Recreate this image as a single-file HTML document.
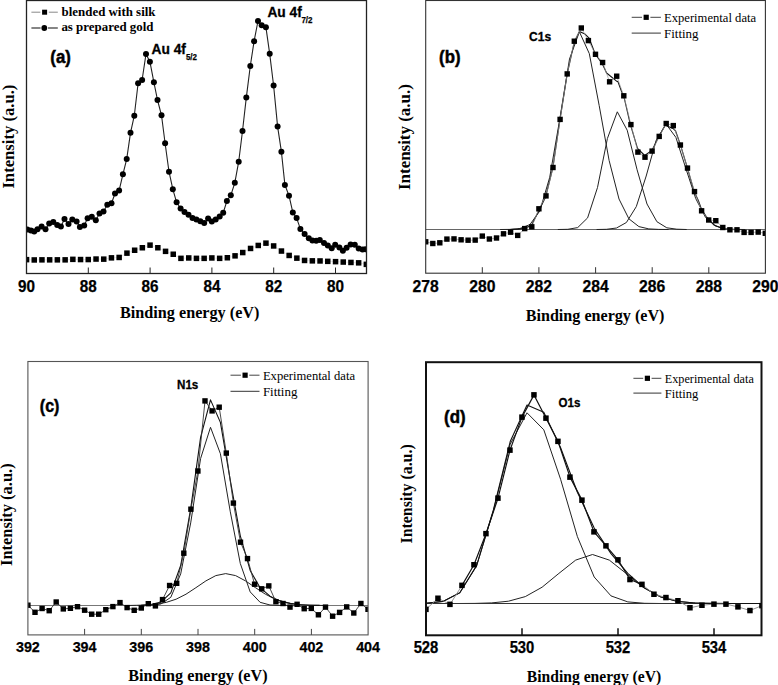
<!DOCTYPE html>
<html><head><meta charset="utf-8"><style>html,body{margin:0;padding:0;background:#fff;width:778px;height:685px;overflow:hidden}svg{display:block}</style></head><body>
<svg width="778" height="685" viewBox="0 0 778 685">
<rect width="778" height="685" fill="#fff"/>
<defs><clipPath id="ca"><rect x="26.5" y="0" width="340" height="273.5"/></clipPath><clipPath id="cb"><rect x="425.7" y="0" width="339.7" height="273.2"/></clipPath><clipPath id="cc"><rect x="27.9" y="361.5" width="340.2" height="273.4"/></clipPath><clipPath id="cd"><rect x="426" y="362.2" width="335.5" height="273.1"/></clipPath></defs><g clip-path="url(#ca)">
<polyline points="27.3,229.6 30.9,230.4 34.2,231.4 37.5,229.3 41.6,226.4 45.5,229.3 49.2,223.4 53.3,222 57.2,225 60.9,226.4 64.5,219.1 68.5,224.1 72.3,219.4 76.6,221.6 79.9,227 84.2,225.5 87.6,218.2 91.8,216.8 95.8,220.2 99.5,213.6 103.5,211.5 107.3,204.8 111.5,203.3 115,193.5 119.1,190.6 122.9,174.3 126.7,159.1 130.5,132.8 134.3,115.7 138.1,83.3 142.1,80 146,54 149.9,61.7 153.9,82.3 157.5,100 161.5,115.3 165.1,143.2 169,171.7 172.8,189.2 176.6,202.3 180.6,208.5 184.5,212 188.5,214.8 192.5,218 196.4,219.6 200.3,221.2 204.2,222.9 208.1,218.6 211.8,221.6 215.7,219.6 219.7,216.6 223.2,212.8 226.9,201 230.8,195.3 234.8,182.8 238.7,161.7 242.5,131 246.3,97.6 250.3,66 254.1,41.2 258,21 261.7,25.2 265.9,27.2 269.7,53.8 273.6,85.5 277.6,126.6 281.4,151.7 284.9,184.9 289,195.7 292.8,212.4 296.6,218.1 300.4,228.9 304.6,234 308.8,238.3 312.4,240.4 316.2,240.8 319.8,240 324,243.1 327.8,245.5 331.7,248.2 335.2,244.7 339.4,247.5 342.9,250.8 346.6,247.8 350.6,244.4 354.8,244.7 358.7,248.5 362.5,249.6 365.3,249.3" fill="none" stroke="#222" stroke-width="1.1" stroke-linejoin="round" />
<circle cx="27.3" cy="229.6" r="3"/>
<circle cx="30.9" cy="230.4" r="3"/>
<circle cx="34.2" cy="231.4" r="3"/>
<circle cx="37.5" cy="229.3" r="3"/>
<circle cx="41.6" cy="226.4" r="3"/>
<circle cx="45.5" cy="229.3" r="3"/>
<circle cx="49.2" cy="223.4" r="3"/>
<circle cx="53.3" cy="222" r="3"/>
<circle cx="57.2" cy="225" r="3"/>
<circle cx="60.9" cy="226.4" r="3"/>
<circle cx="64.5" cy="219.1" r="3"/>
<circle cx="68.5" cy="224.1" r="3"/>
<circle cx="72.3" cy="219.4" r="3"/>
<circle cx="76.6" cy="221.6" r="3"/>
<circle cx="79.9" cy="227" r="3"/>
<circle cx="84.2" cy="225.5" r="3"/>
<circle cx="87.6" cy="218.2" r="3"/>
<circle cx="91.8" cy="216.8" r="3"/>
<circle cx="95.8" cy="220.2" r="3"/>
<circle cx="99.5" cy="213.6" r="3"/>
<circle cx="103.5" cy="211.5" r="3"/>
<circle cx="107.3" cy="204.8" r="3"/>
<circle cx="111.5" cy="203.3" r="3"/>
<circle cx="115" cy="193.5" r="3"/>
<circle cx="119.1" cy="190.6" r="3"/>
<circle cx="122.9" cy="174.3" r="3"/>
<circle cx="126.7" cy="159.1" r="3"/>
<circle cx="130.5" cy="132.8" r="3"/>
<circle cx="134.3" cy="115.7" r="3"/>
<circle cx="138.1" cy="83.3" r="3"/>
<circle cx="142.1" cy="80" r="3"/>
<circle cx="146" cy="54" r="3"/>
<circle cx="149.9" cy="61.7" r="3"/>
<circle cx="153.9" cy="82.3" r="3"/>
<circle cx="157.5" cy="100" r="3"/>
<circle cx="161.5" cy="115.3" r="3"/>
<circle cx="165.1" cy="143.2" r="3"/>
<circle cx="169" cy="171.7" r="3"/>
<circle cx="172.8" cy="189.2" r="3"/>
<circle cx="176.6" cy="202.3" r="3"/>
<circle cx="180.6" cy="208.5" r="3"/>
<circle cx="184.5" cy="212" r="3"/>
<circle cx="188.5" cy="214.8" r="3"/>
<circle cx="192.5" cy="218" r="3"/>
<circle cx="196.4" cy="219.6" r="3"/>
<circle cx="200.3" cy="221.2" r="3"/>
<circle cx="204.2" cy="222.9" r="3"/>
<circle cx="208.1" cy="218.6" r="3"/>
<circle cx="211.8" cy="221.6" r="3"/>
<circle cx="215.7" cy="219.6" r="3"/>
<circle cx="219.7" cy="216.6" r="3"/>
<circle cx="223.2" cy="212.8" r="3"/>
<circle cx="226.9" cy="201" r="3"/>
<circle cx="230.8" cy="195.3" r="3"/>
<circle cx="234.8" cy="182.8" r="3"/>
<circle cx="238.7" cy="161.7" r="3"/>
<circle cx="242.5" cy="131" r="3"/>
<circle cx="246.3" cy="97.6" r="3"/>
<circle cx="250.3" cy="66" r="3"/>
<circle cx="254.1" cy="41.2" r="3"/>
<circle cx="258" cy="21" r="3"/>
<circle cx="261.7" cy="25.2" r="3"/>
<circle cx="265.9" cy="27.2" r="3"/>
<circle cx="269.7" cy="53.8" r="3"/>
<circle cx="273.6" cy="85.5" r="3"/>
<circle cx="277.6" cy="126.6" r="3"/>
<circle cx="281.4" cy="151.7" r="3"/>
<circle cx="284.9" cy="184.9" r="3"/>
<circle cx="289" cy="195.7" r="3"/>
<circle cx="292.8" cy="212.4" r="3"/>
<circle cx="296.6" cy="218.1" r="3"/>
<circle cx="300.4" cy="228.9" r="3"/>
<circle cx="304.6" cy="234" r="3"/>
<circle cx="308.8" cy="238.3" r="3"/>
<circle cx="312.4" cy="240.4" r="3"/>
<circle cx="316.2" cy="240.8" r="3"/>
<circle cx="319.8" cy="240" r="3"/>
<circle cx="324" cy="243.1" r="3"/>
<circle cx="327.8" cy="245.5" r="3"/>
<circle cx="331.7" cy="248.2" r="3"/>
<circle cx="335.2" cy="244.7" r="3"/>
<circle cx="339.4" cy="247.5" r="3"/>
<circle cx="342.9" cy="250.8" r="3"/>
<circle cx="346.6" cy="247.8" r="3"/>
<circle cx="350.6" cy="244.4" r="3"/>
<circle cx="354.8" cy="244.7" r="3"/>
<circle cx="358.7" cy="248.5" r="3"/>
<circle cx="362.5" cy="249.6" r="3"/>
<circle cx="365.3" cy="249.3" r="3"/>
<polyline points="26.5,259.6 34.2,260 42,259.8 49.7,259.9 57.4,259.9 65.1,259.8 72.8,259.3 80.6,259.5 88.3,259.5 96,259 103.8,259.2 111.5,257.9 119.2,257.4 126.9,253.2 134.6,250.3 142.4,247.8 150.1,245.1 157.8,247.8 165.5,251.3 173.3,254.2 181,258.4 188.7,257.9 196.4,258.4 204.2,258.4 211.9,257.9 219.6,258.4 227.3,257.8 235.1,255.9 242.8,252.5 250.5,248.5 258.2,245.4 266,243.2 273.7,245.9 281.4,251 289.1,255.5 296.9,258.2 304.6,260.4 312.3,260.9 320.1,260.9 327.8,261.3 335.5,261.6 343.2,262 350.9,262.4 358.7,262.9 366.4,264.3" fill="none" stroke="#ddd" stroke-width="0.7" stroke-linejoin="round" />
<rect x="23.8" y="256.9" width="5.5" height="5.5" fill="#000"/>
<rect x="31.5" y="257.2" width="5.5" height="5.5" fill="#000"/>
<rect x="39.2" y="257.1" width="5.5" height="5.5" fill="#000"/>
<rect x="46.9" y="257.1" width="5.5" height="5.5" fill="#000"/>
<rect x="54.6" y="257.1" width="5.5" height="5.5" fill="#000"/>
<rect x="62.4" y="257.1" width="5.5" height="5.5" fill="#000"/>
<rect x="70.1" y="256.6" width="5.5" height="5.5" fill="#000"/>
<rect x="77.8" y="256.8" width="5.5" height="5.5" fill="#000"/>
<rect x="85.5" y="256.8" width="5.5" height="5.5" fill="#000"/>
<rect x="93.3" y="256.3" width="5.5" height="5.5" fill="#000"/>
<rect x="101" y="256.4" width="5.5" height="5.5" fill="#000"/>
<rect x="108.7" y="255.1" width="5.5" height="5.5" fill="#000"/>
<rect x="116.4" y="254.7" width="5.5" height="5.5" fill="#000"/>
<rect x="124.2" y="250.4" width="5.5" height="5.5" fill="#000"/>
<rect x="131.9" y="247.5" width="5.5" height="5.5" fill="#000"/>
<rect x="139.6" y="245" width="5.5" height="5.5" fill="#000"/>
<rect x="147.3" y="242.4" width="5.5" height="5.5" fill="#000"/>
<rect x="155.1" y="245" width="5.5" height="5.5" fill="#000"/>
<rect x="162.8" y="248.6" width="5.5" height="5.5" fill="#000"/>
<rect x="170.5" y="251.5" width="5.5" height="5.5" fill="#000"/>
<rect x="178.2" y="255.6" width="5.5" height="5.5" fill="#000"/>
<rect x="186" y="255.2" width="5.5" height="5.5" fill="#000"/>
<rect x="193.7" y="255.6" width="5.5" height="5.5" fill="#000"/>
<rect x="201.4" y="255.6" width="5.5" height="5.5" fill="#000"/>
<rect x="209.1" y="255.2" width="5.5" height="5.5" fill="#000"/>
<rect x="216.9" y="255.6" width="5.5" height="5.5" fill="#000"/>
<rect x="224.6" y="255" width="5.5" height="5.5" fill="#000"/>
<rect x="232.3" y="253.1" width="5.5" height="5.5" fill="#000"/>
<rect x="240" y="249.8" width="5.5" height="5.5" fill="#000"/>
<rect x="247.8" y="245.7" width="5.5" height="5.5" fill="#000"/>
<rect x="255.5" y="242.7" width="5.5" height="5.5" fill="#000"/>
<rect x="263.2" y="240.4" width="5.5" height="5.5" fill="#000"/>
<rect x="270.9" y="243.2" width="5.5" height="5.5" fill="#000"/>
<rect x="278.7" y="248.3" width="5.5" height="5.5" fill="#000"/>
<rect x="286.4" y="252.7" width="5.5" height="5.5" fill="#000"/>
<rect x="294.1" y="255.4" width="5.5" height="5.5" fill="#000"/>
<rect x="301.8" y="257.7" width="5.5" height="5.5" fill="#000"/>
<rect x="309.6" y="258.1" width="5.5" height="5.5" fill="#000"/>
<rect x="317.3" y="258.2" width="5.5" height="5.5" fill="#000"/>
<rect x="325" y="258.6" width="5.5" height="5.5" fill="#000"/>
<rect x="332.8" y="258.9" width="5.5" height="5.5" fill="#000"/>
<rect x="340.5" y="259.3" width="5.5" height="5.5" fill="#000"/>
<rect x="348.2" y="259.7" width="5.5" height="5.5" fill="#000"/>
<rect x="355.9" y="260.1" width="5.5" height="5.5" fill="#000"/>
<rect x="363.6" y="261.6" width="5.5" height="5.5" fill="#000"/>
</g>
<rect x="26.5" y="0.5" width="340" height="273" fill="none" stroke="#222" stroke-width="1.3"/>
<text x="26.5" y="291.8" font-family="Liberation Sans" font-size="16.2" font-weight="bold" text-anchor="middle" textLength="17" lengthAdjust="spacingAndGlyphs" stroke="#000" stroke-width="0.25">90</text>
<line x1="88.3" y1="273.5" x2="88.3" y2="267.5" stroke="#222" stroke-width="1"/>
<text x="88.3" y="291.8" font-family="Liberation Sans" font-size="16.2" font-weight="bold" text-anchor="middle" textLength="17" lengthAdjust="spacingAndGlyphs" stroke="#000" stroke-width="0.25">88</text>
<line x1="150.1" y1="273.5" x2="150.1" y2="267.5" stroke="#222" stroke-width="1"/>
<text x="150.1" y="291.8" font-family="Liberation Sans" font-size="16.2" font-weight="bold" text-anchor="middle" textLength="17" lengthAdjust="spacingAndGlyphs" stroke="#000" stroke-width="0.25">86</text>
<line x1="211.9" y1="273.5" x2="211.9" y2="267.5" stroke="#222" stroke-width="1"/>
<text x="211.9" y="291.8" font-family="Liberation Sans" font-size="16.2" font-weight="bold" text-anchor="middle" textLength="17" lengthAdjust="spacingAndGlyphs" stroke="#000" stroke-width="0.25">84</text>
<line x1="273.7" y1="273.5" x2="273.7" y2="267.5" stroke="#222" stroke-width="1"/>
<text x="273.7" y="291.8" font-family="Liberation Sans" font-size="16.2" font-weight="bold" text-anchor="middle" textLength="17" lengthAdjust="spacingAndGlyphs" stroke="#000" stroke-width="0.25">82</text>
<line x1="335.5" y1="273.5" x2="335.5" y2="267.5" stroke="#222" stroke-width="1"/>
<text x="335.5" y="291.8" font-family="Liberation Sans" font-size="16.2" font-weight="bold" text-anchor="middle" textLength="17" lengthAdjust="spacingAndGlyphs" stroke="#000" stroke-width="0.25">80</text>
<line x1="31.4" y1="12.2" x2="40.4" y2="12.2" stroke="#888" stroke-width="1"/>
<line x1="48.8" y1="12.2" x2="57.8" y2="12.2" stroke="#888" stroke-width="1"/>
<rect x="42.1" y="9.7" width="5" height="5" fill="#000"/>
<line x1="31.4" y1="28" x2="40.6" y2="28" stroke="#222" stroke-width="1.1"/><line x1="48" y1="28" x2="57.8" y2="28" stroke="#222" stroke-width="1.1"/>
<circle cx="44.3" cy="28" r="2.9"/>
<text x="61.6" y="16" font-family="Liberation Serif" font-size="13" font-weight="bold" text-anchor="start" textLength="93.9" lengthAdjust="spacingAndGlyphs" >blended with silk</text>
<text x="61.4" y="31.4" font-family="Liberation Serif" font-size="13" font-weight="bold" text-anchor="start" textLength="92.1" lengthAdjust="spacingAndGlyphs" >as prepared gold</text>
<text x="50.3" y="62.5" font-family="Liberation Sans" font-size="18" font-weight="bold" text-anchor="start" textLength="20.5" lengthAdjust="spacingAndGlyphs" stroke="#000" stroke-width="0.5">(a)</text>
<text x="151.5" y="53.9" font-family="Liberation Sans" font-size="14" font-weight="bold" text-anchor="start" textLength="34.4" lengthAdjust="spacingAndGlyphs" stroke="#000" stroke-width="0.3">Au 4f</text>
<text x="185.9" y="59.7" font-family="Liberation Sans" font-size="9.5" font-weight="bold" text-anchor="start" textLength="11.1" lengthAdjust="spacingAndGlyphs" stroke="#000" stroke-width="0.25">5/2</text>
<text x="267.4" y="17.4" font-family="Liberation Sans" font-size="14" font-weight="bold" text-anchor="start" textLength="34.4" lengthAdjust="spacingAndGlyphs" stroke="#000" stroke-width="0.3">Au 4f</text>
<text x="301.4" y="23" font-family="Liberation Sans" font-size="9.5" font-weight="bold" text-anchor="start" textLength="11.1" lengthAdjust="spacingAndGlyphs" stroke="#000" stroke-width="0.25">7/2</text>
<text x="120" y="317.8" font-family="Liberation Serif" font-size="16" font-weight="bold" text-anchor="start" textLength="139.4" lengthAdjust="spacingAndGlyphs" >Binding energy (eV)</text>
<text transform="translate(14.3,188.6) rotate(-90)" font-family="Liberation Serif" font-size="16.5" font-weight="bold" textLength="104" lengthAdjust="spacingAndGlyphs">Intensity (a.u.)</text>
<g clip-path="url(#cb)">
<line x1="425.7" y1="229.5" x2="765.4" y2="229.5" stroke="#666" stroke-width="1.1"/>
<polyline points="500.1,229.5 510,229.4 519.9,228.5 529.9,224.6 539.8,211 549.7,177.4 559.6,120.2 569.5,59 579.4,31.8 589.3,53.6 599.2,105.6 609.1,160.4 619,199 628.9,218.8 638.9,226.6 648.8,228.9 658.7,229.4 668.6,229.5" fill="none" stroke="#222" stroke-width="1" stroke-linejoin="round" />
<polyline points="557.8,229.5 567.8,229.3 577.7,227.6 587.6,217.9 597.5,187.5 607.4,138.5 617.3,111.8 627.2,130.2 637.1,169.8 647,204 656.9,221.7 666.8,227.8 676.8,229.2 686.7,229.5" fill="none" stroke="#222" stroke-width="1" stroke-linejoin="round" />
<polyline points="596.6,229.5 606.5,229.3 616.5,228 626.4,222.5 636.3,206.6 646.2,176 656.1,140.5 666,124 675.9,137.4 685.8,168.3 695.7,198.5 705.6,217.5 715.5,226 725.5,228.7 735.4,229.4 745.3,229.5" fill="none" stroke="#222" stroke-width="1" stroke-linejoin="round" />
<polyline points="510,229.5 518,229.1 524.4,228.4 531.6,225.3 538.4,211.5 545.6,197 552.9,167.5 560,119.4 563.1,100 567.2,74 574.3,42 579.4,31.5 585,34.1 589.1,38.2 595.3,54.2 602.3,63.8 606.6,73 616.3,80.9 618,81.8 621.5,91.4 624.1,97.5 630.3,124.2 637.5,148.3 644.7,155.5 651.9,150.4 658.9,136.4 665.2,125.2 673.5,128.8 675.5,130.8 680.2,144.2 686.8,165.8 694.2,191.6 698.3,200.5 701.4,209 706.2,216.6 714.1,225 721.1,228 732,229.5" fill="none" stroke="#111" stroke-width="1.1" stroke-linejoin="round" />
<polyline points="425.7,241.8 432.8,243.5 439.8,242.8 446.9,239.1 454,238.9 461.1,239.8 468.1,240.2 475.2,240.1 482.3,236.1 489.4,239 496.4,238 503.5,233.8 510.6,232.2 517.7,235.4 524.8,228.6 531.8,226.8 538.9,208.8 546,195.9 553,167.5 560.1,119.4 567.2,73.9 574.3,41.2 581.4,28 588.4,40.6 595.5,54.3 602.6,62.5 609.6,81.8 616.7,76.2 623.8,95.8 630.9,124.6 638,152.1 645,157.2 652.1,151.1 659.2,136.4 666.2,123.5 673.3,125.6 680.4,145 687.5,168.1 694.5,191.6 701.6,210.8 708.7,220 715.8,220.7 722.9,227.5 729.9,229.8 737,229.8 744.1,232.4 751.1,232.4 758.2,232.1 765.3,233.3" fill="none" stroke="#999" stroke-width="0.7" stroke-linejoin="round" />
<rect x="423" y="239.1" width="5.4" height="5.4" fill="#000"/>
<rect x="430.1" y="240.8" width="5.4" height="5.4" fill="#000"/>
<rect x="437.1" y="240.1" width="5.4" height="5.4" fill="#000"/>
<rect x="444.2" y="236.4" width="5.4" height="5.4" fill="#000"/>
<rect x="451.3" y="236.2" width="5.4" height="5.4" fill="#000"/>
<rect x="458.4" y="237.1" width="5.4" height="5.4" fill="#000"/>
<rect x="465.4" y="237.5" width="5.4" height="5.4" fill="#000"/>
<rect x="472.5" y="237.4" width="5.4" height="5.4" fill="#000"/>
<rect x="479.6" y="233.4" width="5.4" height="5.4" fill="#000"/>
<rect x="486.7" y="236.3" width="5.4" height="5.4" fill="#000"/>
<rect x="493.8" y="235.3" width="5.4" height="5.4" fill="#000"/>
<rect x="500.8" y="231.1" width="5.4" height="5.4" fill="#000"/>
<rect x="507.9" y="229.5" width="5.4" height="5.4" fill="#000"/>
<rect x="515" y="232.7" width="5.4" height="5.4" fill="#000"/>
<rect x="522" y="225.9" width="5.4" height="5.4" fill="#000"/>
<rect x="529.1" y="224.1" width="5.4" height="5.4" fill="#000"/>
<rect x="536.2" y="206.1" width="5.4" height="5.4" fill="#000"/>
<rect x="543.3" y="193.2" width="5.4" height="5.4" fill="#000"/>
<rect x="550.3" y="164.8" width="5.4" height="5.4" fill="#000"/>
<rect x="557.4" y="116.7" width="5.4" height="5.4" fill="#000"/>
<rect x="564.5" y="71.2" width="5.4" height="5.4" fill="#000"/>
<rect x="571.6" y="38.5" width="5.4" height="5.4" fill="#000"/>
<rect x="578.6" y="25.3" width="5.4" height="5.4" fill="#000"/>
<rect x="585.7" y="37.9" width="5.4" height="5.4" fill="#000"/>
<rect x="592.8" y="51.6" width="5.4" height="5.4" fill="#000"/>
<rect x="599.9" y="59.8" width="5.4" height="5.4" fill="#000"/>
<rect x="606.9" y="79.1" width="5.4" height="5.4" fill="#000"/>
<rect x="614" y="73.5" width="5.4" height="5.4" fill="#000"/>
<rect x="621.1" y="93.1" width="5.4" height="5.4" fill="#000"/>
<rect x="628.2" y="121.9" width="5.4" height="5.4" fill="#000"/>
<rect x="635.2" y="149.4" width="5.4" height="5.4" fill="#000"/>
<rect x="642.3" y="154.5" width="5.4" height="5.4" fill="#000"/>
<rect x="649.4" y="148.4" width="5.4" height="5.4" fill="#000"/>
<rect x="656.5" y="133.7" width="5.4" height="5.4" fill="#000"/>
<rect x="663.5" y="120.8" width="5.4" height="5.4" fill="#000"/>
<rect x="670.6" y="122.9" width="5.4" height="5.4" fill="#000"/>
<rect x="677.7" y="142.3" width="5.4" height="5.4" fill="#000"/>
<rect x="684.8" y="165.4" width="5.4" height="5.4" fill="#000"/>
<rect x="691.8" y="188.9" width="5.4" height="5.4" fill="#000"/>
<rect x="698.9" y="208.1" width="5.4" height="5.4" fill="#000"/>
<rect x="706" y="217.3" width="5.4" height="5.4" fill="#000"/>
<rect x="713.1" y="218" width="5.4" height="5.4" fill="#000"/>
<rect x="720.1" y="224.8" width="5.4" height="5.4" fill="#000"/>
<rect x="727.2" y="227.1" width="5.4" height="5.4" fill="#000"/>
<rect x="734.3" y="227.1" width="5.4" height="5.4" fill="#000"/>
<rect x="741.4" y="229.7" width="5.4" height="5.4" fill="#000"/>
<rect x="748.4" y="229.7" width="5.4" height="5.4" fill="#000"/>
<rect x="755.5" y="229.4" width="5.4" height="5.4" fill="#000"/>
<rect x="762.6" y="230.6" width="5.4" height="5.4" fill="#000"/>
</g>
<rect x="425.7" y="0.5" width="339.7" height="272.7" fill="none" stroke="#333" stroke-width="1.1"/>
<text x="425.7" y="291.8" font-family="Liberation Sans" font-size="16.2" font-weight="bold" text-anchor="middle" textLength="26.2" lengthAdjust="spacingAndGlyphs" stroke="#000" stroke-width="0.25">278</text>
<line x1="482.3" y1="273.2" x2="482.3" y2="267.2" stroke="#333" stroke-width="1"/>
<text x="482.3" y="291.8" font-family="Liberation Sans" font-size="16.2" font-weight="bold" text-anchor="middle" textLength="26.2" lengthAdjust="spacingAndGlyphs" stroke="#000" stroke-width="0.25">280</text>
<line x1="538.9" y1="273.2" x2="538.9" y2="267.2" stroke="#333" stroke-width="1"/>
<text x="538.9" y="291.8" font-family="Liberation Sans" font-size="16.2" font-weight="bold" text-anchor="middle" textLength="26.2" lengthAdjust="spacingAndGlyphs" stroke="#000" stroke-width="0.25">282</text>
<line x1="595.6" y1="273.2" x2="595.6" y2="267.2" stroke="#333" stroke-width="1"/>
<text x="595.6" y="291.8" font-family="Liberation Sans" font-size="16.2" font-weight="bold" text-anchor="middle" textLength="26.2" lengthAdjust="spacingAndGlyphs" stroke="#000" stroke-width="0.25">284</text>
<line x1="652.2" y1="273.2" x2="652.2" y2="267.2" stroke="#333" stroke-width="1"/>
<text x="652.2" y="291.8" font-family="Liberation Sans" font-size="16.2" font-weight="bold" text-anchor="middle" textLength="26.2" lengthAdjust="spacingAndGlyphs" stroke="#000" stroke-width="0.25">286</text>
<line x1="708.8" y1="273.2" x2="708.8" y2="267.2" stroke="#333" stroke-width="1"/>
<text x="708.8" y="291.8" font-family="Liberation Sans" font-size="16.2" font-weight="bold" text-anchor="middle" textLength="26.2" lengthAdjust="spacingAndGlyphs" stroke="#000" stroke-width="0.25">288</text>
<text x="765.4" y="291.8" font-family="Liberation Sans" font-size="16.2" font-weight="bold" text-anchor="middle" textLength="26.2" lengthAdjust="spacingAndGlyphs" stroke="#000" stroke-width="0.25">290</text>
<line x1="631.7" y1="17.3" x2="642" y2="17.3" stroke="#444" stroke-width="1"/>
<line x1="650.4" y1="17.3" x2="660.9" y2="17.3" stroke="#444" stroke-width="1"/>
<rect x="643.6" y="14.7" width="5.2" height="5.2" fill="#000"/>
<line x1="631.7" y1="33.1" x2="660.9" y2="33.1" stroke="#333" stroke-width="1"/>
<text x="664" y="21.6" font-family="Liberation Serif" font-size="13" font-weight="normal" text-anchor="start" textLength="92.1" lengthAdjust="spacingAndGlyphs" >Experimental data</text>
<text x="664" y="37.7" font-family="Liberation Serif" font-size="13" font-weight="normal" text-anchor="start" textLength="34.5" lengthAdjust="spacingAndGlyphs" >Fitting</text>
<text x="439.1" y="62.7" font-family="Liberation Sans" font-size="18" font-weight="bold" text-anchor="start" textLength="21.4" lengthAdjust="spacingAndGlyphs" stroke="#000" stroke-width="0.5">(b)</text>
<text x="529" y="41.4" font-family="Liberation Sans" font-size="12" font-weight="bold" text-anchor="start" textLength="22.1" lengthAdjust="spacingAndGlyphs" stroke="#000" stroke-width="0.3">C1s</text>
<text x="525.7" y="321.4" font-family="Liberation Serif" font-size="16" font-weight="bold" text-anchor="start" textLength="138.8" lengthAdjust="spacingAndGlyphs" >Binding energy (eV)</text>
<text transform="translate(410.3,190) rotate(-90)" font-family="Liberation Serif" font-size="16.5" font-weight="bold" textLength="105.8" lengthAdjust="spacingAndGlyphs">Intensity (a.u.)</text>
<g clip-path="url(#cc)">
<line x1="27.9" y1="605.5" x2="368.1" y2="605.5" stroke="#777" stroke-width="1.2"/>
<polyline points="141.1,605.5 151,605.3 160.9,604 170.8,597.3 180.7,573.9 190.7,522.9 200.6,458.5 210.5,427.3 220.4,453.7 230.3,511.8 240.3,563.5 250.2,591.9 260.1,602.3 270,605 279.9,605.4 289.9,605.5" fill="none" stroke="#222" stroke-width="1" stroke-linejoin="round" />
<polyline points="126.5,605.5 136.4,605.3 146.3,605 156.3,604.2 166.2,602.4 176.1,599.2 186,594.2 195.9,587.7 205.9,580.9 215.8,575.6 225.7,573.6 235.6,575.6 245.5,580.9 255.5,587.7 265.4,594.2 275.3,599.2 285.2,602.4 295.1,604.2 305.1,605 315,605.3 324.9,605.5" fill="none" stroke="#222" stroke-width="1" stroke-linejoin="round" />
<polyline points="141.1,605.2 151,604.5 160.9,602.1 170.8,592.9 180.7,565.5 190.7,508.7 200.6,437.4 210.5,399.9 220.4,422.4 230.3,480.3 240.3,535.8 250.2,570.4 260.1,587.7 270,596.2 279.9,600.9 289.9,603.4 299.8,604.7 309.7,605.2 319.6,605.4" fill="none" stroke="#111" stroke-width="1.1" stroke-linejoin="round" />
<polyline points="27.9,605.2 35,612.3 42.1,608.5 49.2,610.7 56.2,602 63.3,608.9 70.4,608.3 77.5,606.7 84.6,610.2 91.7,614.2 98.8,614.2 105.8,609.7 112.9,606.6 120,602.6 127.1,607.6 134.2,610.3 141.3,608 148.3,603.7 155.4,605.9 162.5,599.6 169.6,585.5 176.7,583.3 183.8,553.2 190.9,509.2 197.9,471 205,400.9 212.1,410.9 219.2,407.2 226.3,453.1 233.4,503.1 240.5,542.2 247.5,558.6 254.6,584.2 261.7,588.8 268.8,585.9 275.9,601.7 283,603.5 290,607.1 297.1,604.3 304.2,608.7 311.3,608.4 318.4,614.8 325.5,607.1 332.6,616.2 339.6,612.4 346.7,606.9 353.8,613 360.9,603.5 368,609.3" fill="none" stroke="#333" stroke-width="0.9" stroke-linejoin="round" />
<rect x="25.2" y="602.5" width="5.4" height="5.4" fill="#000"/>
<rect x="32.3" y="609.6" width="5.4" height="5.4" fill="#000"/>
<rect x="39.4" y="605.8" width="5.4" height="5.4" fill="#000"/>
<rect x="46.5" y="608" width="5.4" height="5.4" fill="#000"/>
<rect x="53.5" y="599.3" width="5.4" height="5.4" fill="#000"/>
<rect x="60.6" y="606.2" width="5.4" height="5.4" fill="#000"/>
<rect x="67.7" y="605.6" width="5.4" height="5.4" fill="#000"/>
<rect x="74.8" y="604" width="5.4" height="5.4" fill="#000"/>
<rect x="81.9" y="607.5" width="5.4" height="5.4" fill="#000"/>
<rect x="89" y="611.5" width="5.4" height="5.4" fill="#000"/>
<rect x="96" y="611.5" width="5.4" height="5.4" fill="#000"/>
<rect x="103.1" y="607" width="5.4" height="5.4" fill="#000"/>
<rect x="110.2" y="603.9" width="5.4" height="5.4" fill="#000"/>
<rect x="117.3" y="599.9" width="5.4" height="5.4" fill="#000"/>
<rect x="124.4" y="604.9" width="5.4" height="5.4" fill="#000"/>
<rect x="131.5" y="607.6" width="5.4" height="5.4" fill="#000"/>
<rect x="138.6" y="605.3" width="5.4" height="5.4" fill="#000"/>
<rect x="145.6" y="601" width="5.4" height="5.4" fill="#000"/>
<rect x="152.7" y="603.2" width="5.4" height="5.4" fill="#000"/>
<rect x="159.8" y="596.9" width="5.4" height="5.4" fill="#000"/>
<rect x="166.9" y="582.8" width="5.4" height="5.4" fill="#000"/>
<rect x="174" y="580.6" width="5.4" height="5.4" fill="#000"/>
<rect x="181.1" y="550.5" width="5.4" height="5.4" fill="#000"/>
<rect x="188.2" y="506.5" width="5.4" height="5.4" fill="#000"/>
<rect x="195.2" y="468.3" width="5.4" height="5.4" fill="#000"/>
<rect x="202.3" y="398.2" width="5.4" height="5.4" fill="#000"/>
<rect x="209.4" y="408.2" width="5.4" height="5.4" fill="#000"/>
<rect x="216.5" y="404.5" width="5.4" height="5.4" fill="#000"/>
<rect x="223.6" y="450.4" width="5.4" height="5.4" fill="#000"/>
<rect x="230.7" y="500.4" width="5.4" height="5.4" fill="#000"/>
<rect x="237.8" y="539.5" width="5.4" height="5.4" fill="#000"/>
<rect x="244.8" y="555.9" width="5.4" height="5.4" fill="#000"/>
<rect x="251.9" y="581.5" width="5.4" height="5.4" fill="#000"/>
<rect x="259" y="586.1" width="5.4" height="5.4" fill="#000"/>
<rect x="266.1" y="583.2" width="5.4" height="5.4" fill="#000"/>
<rect x="273.2" y="599" width="5.4" height="5.4" fill="#000"/>
<rect x="280.3" y="600.8" width="5.4" height="5.4" fill="#000"/>
<rect x="287.3" y="604.4" width="5.4" height="5.4" fill="#000"/>
<rect x="294.4" y="601.6" width="5.4" height="5.4" fill="#000"/>
<rect x="301.5" y="606" width="5.4" height="5.4" fill="#000"/>
<rect x="308.6" y="605.7" width="5.4" height="5.4" fill="#000"/>
<rect x="315.7" y="612.1" width="5.4" height="5.4" fill="#000"/>
<rect x="322.8" y="604.4" width="5.4" height="5.4" fill="#000"/>
<rect x="329.9" y="613.5" width="5.4" height="5.4" fill="#000"/>
<rect x="336.9" y="609.7" width="5.4" height="5.4" fill="#000"/>
<rect x="344" y="604.2" width="5.4" height="5.4" fill="#000"/>
<rect x="351.1" y="610.3" width="5.4" height="5.4" fill="#000"/>
<rect x="358.2" y="600.8" width="5.4" height="5.4" fill="#000"/>
<rect x="365.3" y="606.6" width="5.4" height="5.4" fill="#000"/>
</g>
<rect x="27.9" y="361.5" width="340.2" height="273.4" fill="none" stroke="#555" stroke-width="1.1"/>
<text x="27.9" y="652.4" font-family="Liberation Sans" font-size="15.3" font-weight="bold" text-anchor="middle" textLength="23.9" lengthAdjust="spacingAndGlyphs" stroke="#000" stroke-width="0.25">392</text>
<line x1="84.6" y1="634.9" x2="84.6" y2="628.9" stroke="#444" stroke-width="1"/>
<text x="84.6" y="652.4" font-family="Liberation Sans" font-size="15.3" font-weight="bold" text-anchor="middle" textLength="23.9" lengthAdjust="spacingAndGlyphs" stroke="#000" stroke-width="0.25">394</text>
<line x1="141.3" y1="634.9" x2="141.3" y2="628.9" stroke="#444" stroke-width="1"/>
<text x="141.3" y="652.4" font-family="Liberation Sans" font-size="15.3" font-weight="bold" text-anchor="middle" textLength="23.9" lengthAdjust="spacingAndGlyphs" stroke="#000" stroke-width="0.25">396</text>
<line x1="198" y1="634.9" x2="198" y2="628.9" stroke="#444" stroke-width="1"/>
<text x="198" y="652.4" font-family="Liberation Sans" font-size="15.3" font-weight="bold" text-anchor="middle" textLength="23.9" lengthAdjust="spacingAndGlyphs" stroke="#000" stroke-width="0.25">398</text>
<line x1="254.7" y1="634.9" x2="254.7" y2="628.9" stroke="#444" stroke-width="1"/>
<text x="254.7" y="652.4" font-family="Liberation Sans" font-size="15.3" font-weight="bold" text-anchor="middle" textLength="23.9" lengthAdjust="spacingAndGlyphs" stroke="#000" stroke-width="0.25">400</text>
<line x1="311.4" y1="634.9" x2="311.4" y2="628.9" stroke="#444" stroke-width="1"/>
<text x="311.4" y="652.4" font-family="Liberation Sans" font-size="15.3" font-weight="bold" text-anchor="middle" textLength="23.9" lengthAdjust="spacingAndGlyphs" stroke="#000" stroke-width="0.25">402</text>
<text x="368.1" y="652.4" font-family="Liberation Sans" font-size="15.3" font-weight="bold" text-anchor="middle" textLength="23.9" lengthAdjust="spacingAndGlyphs" stroke="#000" stroke-width="0.25">404</text>
<line x1="230.5" y1="375.2" x2="240.9" y2="375.2" stroke="#444" stroke-width="1"/>
<line x1="249.3" y1="375.2" x2="259.5" y2="375.2" stroke="#444" stroke-width="1"/>
<rect x="242.5" y="372.6" width="5.2" height="5.2" fill="#000"/>
<line x1="230.5" y1="391.3" x2="259.5" y2="391.3" stroke="#333" stroke-width="1"/>
<text x="262.9" y="380" font-family="Liberation Serif" font-size="13" font-weight="normal" text-anchor="start" textLength="92.1" lengthAdjust="spacingAndGlyphs" >Experimental data</text>
<text x="262.9" y="396" font-family="Liberation Serif" font-size="13" font-weight="normal" text-anchor="start" textLength="34.5" lengthAdjust="spacingAndGlyphs" >Fitting</text>
<text x="39.8" y="412.3" font-family="Liberation Sans" font-size="18" font-weight="bold" text-anchor="start" textLength="19.6" lengthAdjust="spacingAndGlyphs" stroke="#000" stroke-width="0.5">(c)</text>
<text x="177" y="388.8" font-family="Liberation Sans" font-size="12" font-weight="bold" text-anchor="start" textLength="21.3" lengthAdjust="spacingAndGlyphs" stroke="#000" stroke-width="0.3">N1s</text>
<text x="128.3" y="681.1" font-family="Liberation Serif" font-size="16" font-weight="bold" text-anchor="start" textLength="139.3" lengthAdjust="spacingAndGlyphs" >Binding energy (eV)</text>
<text transform="translate(11.8,566) rotate(-90)" font-family="Liberation Serif" font-size="16" font-weight="bold" textLength="102.6" lengthAdjust="spacingAndGlyphs">Intensity (a.u.)</text>
<g clip-path="url(#cd)">
<polyline points="426.2,603.2 443,601.4 459.8,592.8 476.6,565.8 493.4,510.7 510.2,444.2 527,412.8 543.8,429.8 560.6,479.3 577.4,536.6 594.2,577 611,595.9 627.8,601.9 644.6,603.3 661.4,603.5" fill="none" stroke="#222" stroke-width="1" stroke-linejoin="round" />
<polyline points="458.1,603.5 474.9,603.4 491.7,602.9 508.5,601.2 525.3,596.6 542.1,587.2 558.9,573.4 575.7,560.1 592.5,554.5 609.3,560.1 626.1,573.4 642.9,587.2 659.7,596.6 676.5,601.2 693.3,602.9 710.1,603.4 726.9,603.5" fill="none" stroke="#222" stroke-width="1" stroke-linejoin="round" />
<line x1="426" y1="603.5" x2="761.5" y2="603.5" stroke="#333" stroke-width="1"/>
<polyline points="426,603.5 426.2,603.2 443,601.4 459.8,592.8 476.6,565.6 493.4,510 510.2,441.6 527,405.1 543.8,412.2 560.6,447.8 577.4,492.2 594.2,528 611,553.6 627.8,573.4 644.6,588.1 661.4,597.2 678.2,601.5 695,603 711.8,603.4 728.6,603.5 745.4,603.5 761.5,603.5" fill="none" stroke="#111" stroke-width="1.1" stroke-linejoin="round" />
<polyline points="426,609.4 438,598.2 450,604.4 462,585.4" fill="none" stroke="#888" stroke-width="0.9" stroke-linejoin="round" />
<polyline points="462,585.4 474,564.8 486,533.6 498,498.2 510,450.1 522,417.1 534,394.9 546,418.2 558,441.3 570,477.1 582,500.1 594,531.9 606,545.9 618,559.9 630,579.5 642,584.4" fill="none" stroke="#111" stroke-width="1.2" stroke-linejoin="round" />
<polyline points="642,584.4 654,594.2 666,597.5 678,600.8 690,607.8 702,605.2 714,604.1 726,604.1 738,606.9 750,610.5 762,605.6" fill="none" stroke="#888" stroke-width="0.9" stroke-linejoin="round" />
<rect x="423.2" y="606.6" width="5.5" height="5.5" fill="#000"/>
<rect x="435.2" y="595.5" width="5.5" height="5.5" fill="#000"/>
<rect x="447.2" y="601.6" width="5.5" height="5.5" fill="#000"/>
<rect x="459.2" y="582.6" width="5.5" height="5.5" fill="#000"/>
<rect x="471.2" y="562" width="5.5" height="5.5" fill="#000"/>
<rect x="483.2" y="530.9" width="5.5" height="5.5" fill="#000"/>
<rect x="495.2" y="495.4" width="5.5" height="5.5" fill="#000"/>
<rect x="507.2" y="447.4" width="5.5" height="5.5" fill="#000"/>
<rect x="519.2" y="414.4" width="5.5" height="5.5" fill="#000"/>
<rect x="531.2" y="392.1" width="5.5" height="5.5" fill="#000"/>
<rect x="543.2" y="415.4" width="5.5" height="5.5" fill="#000"/>
<rect x="555.2" y="438.6" width="5.5" height="5.5" fill="#000"/>
<rect x="567.2" y="474.4" width="5.5" height="5.5" fill="#000"/>
<rect x="579.2" y="497.4" width="5.5" height="5.5" fill="#000"/>
<rect x="591.2" y="529.1" width="5.5" height="5.5" fill="#000"/>
<rect x="603.2" y="543.1" width="5.5" height="5.5" fill="#000"/>
<rect x="615.2" y="557.1" width="5.5" height="5.5" fill="#000"/>
<rect x="627.2" y="576.8" width="5.5" height="5.5" fill="#000"/>
<rect x="639.2" y="581.6" width="5.5" height="5.5" fill="#000"/>
<rect x="651.2" y="591.5" width="5.5" height="5.5" fill="#000"/>
<rect x="663.2" y="594.8" width="5.5" height="5.5" fill="#000"/>
<rect x="675.2" y="598" width="5.5" height="5.5" fill="#000"/>
<rect x="687.2" y="605" width="5.5" height="5.5" fill="#000"/>
<rect x="699.2" y="602.5" width="5.5" height="5.5" fill="#000"/>
<rect x="711.2" y="601.4" width="5.5" height="5.5" fill="#000"/>
<rect x="723.2" y="601.4" width="5.5" height="5.5" fill="#000"/>
<rect x="735.2" y="604.1" width="5.5" height="5.5" fill="#000"/>
<rect x="747.2" y="607.8" width="5.5" height="5.5" fill="#000"/>
<rect x="759.2" y="602.9" width="5.5" height="5.5" fill="#000"/>
</g>
<rect x="426" y="362.2" width="335.5" height="273.1" fill="none" stroke="#111" stroke-width="2"/>
<text x="426" y="653.1" font-family="Liberation Sans" font-size="15.6" font-weight="bold" text-anchor="middle" textLength="24.7" lengthAdjust="spacingAndGlyphs" stroke="#000" stroke-width="0.25">528</text>
<line x1="522" y1="635.3" x2="522" y2="628.3" stroke="#111" stroke-width="1.5"/>
<text x="522" y="653.1" font-family="Liberation Sans" font-size="15.6" font-weight="bold" text-anchor="middle" textLength="24.7" lengthAdjust="spacingAndGlyphs" stroke="#000" stroke-width="0.25">530</text>
<line x1="618" y1="635.3" x2="618" y2="628.3" stroke="#111" stroke-width="1.5"/>
<text x="618" y="653.1" font-family="Liberation Sans" font-size="15.6" font-weight="bold" text-anchor="middle" textLength="24.7" lengthAdjust="spacingAndGlyphs" stroke="#000" stroke-width="0.25">532</text>
<line x1="714" y1="635.3" x2="714" y2="628.3" stroke="#111" stroke-width="1.5"/>
<text x="714" y="653.1" font-family="Liberation Sans" font-size="15.6" font-weight="bold" text-anchor="middle" textLength="24.7" lengthAdjust="spacingAndGlyphs" stroke="#000" stroke-width="0.25">534</text>
<line x1="633.4" y1="378.3" x2="643.2" y2="378.3" stroke="#444" stroke-width="1"/>
<line x1="651.6" y1="378.3" x2="661.4" y2="378.3" stroke="#444" stroke-width="1"/>
<rect x="644.8" y="375.7" width="5.2" height="5.2" fill="#000"/>
<line x1="633.4" y1="393.1" x2="661.4" y2="393.1" stroke="#333" stroke-width="1"/>
<text x="664.8" y="382.6" font-family="Liberation Serif" font-size="13" font-weight="normal" text-anchor="start" textLength="89" lengthAdjust="spacingAndGlyphs" >Experimental data</text>
<text x="664.8" y="397.6" font-family="Liberation Serif" font-size="13" font-weight="normal" text-anchor="start" textLength="33.5" lengthAdjust="spacingAndGlyphs" >Fitting</text>
<text x="444" y="422.6" font-family="Liberation Sans" font-size="18" font-weight="bold" text-anchor="start" textLength="21.6" lengthAdjust="spacingAndGlyphs" stroke="#000" stroke-width="0.5">(d)</text>
<text x="558.5" y="406.5" font-family="Liberation Sans" font-size="12" font-weight="bold" text-anchor="start" textLength="21.8" lengthAdjust="spacingAndGlyphs" stroke="#000" stroke-width="0.3">O1s</text>
<text x="526.8" y="682.4" font-family="Liberation Serif" font-size="16" font-weight="bold" text-anchor="start" textLength="134.4" lengthAdjust="spacingAndGlyphs" >Binding energy (eV)</text>
<text transform="translate(411.8,543.5) rotate(-90)" font-family="Liberation Serif" font-size="16" font-weight="bold" textLength="99.2" lengthAdjust="spacingAndGlyphs">Intensity (a.u.)</text>
</svg>
</body></html>
